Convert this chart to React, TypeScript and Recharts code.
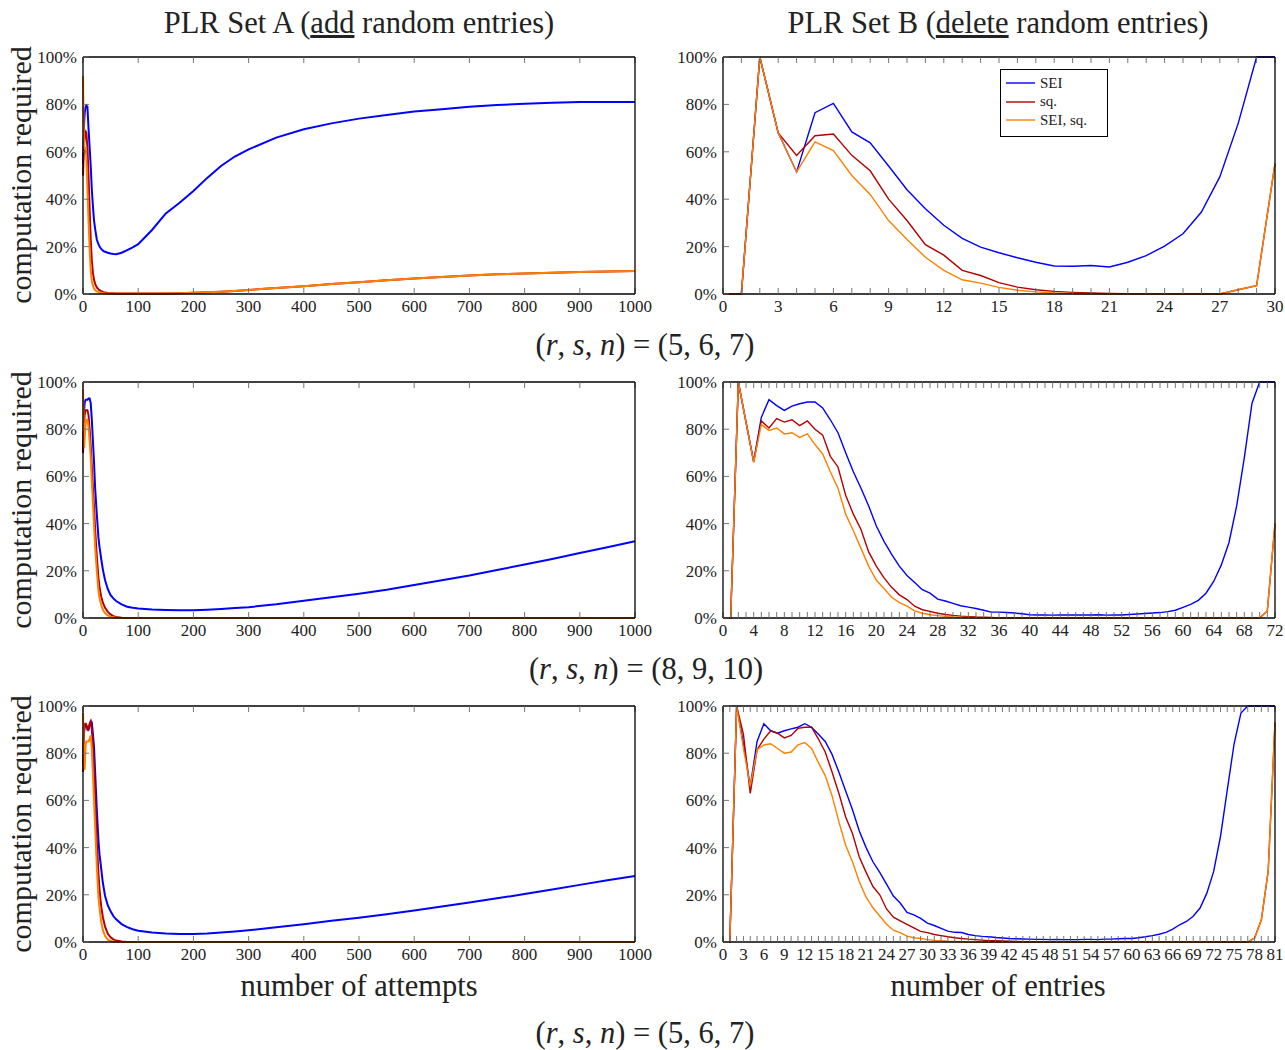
import React from "react";
import { LineChart, Line, XAxis, YAxis, Legend } from "recharts";

const FONT = "'Liberation Serif', 'DejaVu Serif', serif";
const TEXT = "#222";
const TICK = "#666";
const BLUE = "#0000ff";
const RED = "#b30000";
const ORANGE = "#ff8000";

// ---- PLR Set A: computation required vs number of attempts (sampled) ----
const attempts = [
  0, 1, 2, 3, 4, 5, 6, 8, 10, 12, 14, 16, 18, 20, 22, 25, 28, 30, 33, 36, 40, 45, 50, 55, 60,
  70, 80, 90, 100, 125, 150, 175, 200, 225, 250, 275, 300, 350, 400, 450, 500, 550, 600, 650,
  700, 750, 800, 850, 900, 950, 1000,
];

// (r,s,n) = (5,6,7)
const seiA1 = [
  55, 65, 72, 76, 78, 79, 79.5, 79, 70, 62, 54, 44, 37, 31, 27.5, 23, 21, 20, 19, 18.3, 17.8,
  17.4, 17.1, 16.9, 16.8, 17.4, 18.5, 19.7, 21, 27, 34, 38.5, 43.5, 49, 54, 58, 61, 66, 69.5, 72,
  74, 75.5, 77, 78, 79, 79.7, 80.3, 80.7, 81, 81, 81,
];
const sqA1 = [
  50, 58, 63, 66, 68, 68.5, 68, 62, 50, 36, 23, 14, 9, 6, 4.3, 2.8, 2, 1.6, 1.2, 0.9, 0.6, 0.45,
  0.35, 0.3, 0.25, 0.2, 0.2, 0.2, 0.2, 0.2, 0.2, 0.3, 0.5, 0.7, 1, 1.3, 1.7, 2.5, 3.3, 4.2, 5,
  5.8, 6.5, 7.2, 7.8, 8.3, 8.7, 9, 9.3, 9.5, 9.7,
];
const seiSqA1 = [
  92, 72, 62, 61, 62, 61, 58, 45, 31, 19, 10, 5.5, 3.5, 2.3, 1.6, 1.1, 0.8, 0.6, 0.5, 0.4, 0.3,
  0.25, 0.2, 0.2, 0.2, 0.2, 0.2, 0.2, 0.2, 0.2, 0.2, 0.3, 0.5, 0.7, 1, 1.3, 1.7, 2.5, 3.3, 4.2, 5,
  5.8, 6.5, 7.2, 7.8, 8.3, 8.7, 9, 9.3, 9.5, 9.7,
];

// (r,s,n) = (8,9,10)
const seiA2 = [
  70, 82, 88, 91, 92, 92.5, 92.5, 92.5, 93, 93, 91, 84, 75, 66, 55, 44, 34, 30, 25, 20.5, 16,
  12.2, 9.7, 8.3, 7.2, 5.8, 4.8, 4.3, 4, 3.6, 3.4, 3.3, 3.3, 3.5, 3.8, 4.2, 4.6, 5.8, 7.3, 8.8,
  10.3, 12, 14, 16, 18, 20.3, 22.7, 25, 27.5, 30, 32.5,
];
const sqA2 = [
  70, 78, 83, 86, 87.5, 88, 88, 88, 86, 80, 73, 64, 55, 47, 37.5, 26, 17, 13, 9, 6.5, 4.3, 2.6,
  1.5, 0.8, 0.4, 0.1, 0, 0, 0, 0, 0, 0, 0, 0, 0, 0, 0, 0, 0, 0, 0, 0, 0, 0, 0, 0, 0, 0, 0, 0, 0,
];
const seiSqA2 = [
  97, 85, 72, 76, 80, 83, 84, 84, 81, 75, 68, 58, 49, 39, 30, 20, 11.5, 8.5, 5.5, 3.5, 2, 1.1,
  0.5, 0.3, 0.1, 0, 0, 0, 0, 0, 0, 0, 0, 0, 0, 0, 0, 0, 0, 0, 0, 0, 0, 0, 0, 0, 0, 0, 0, 0, 0,
];

// (r,s,n) = (5,6,7), second run
const seiA3 = [
  75, 85, 89, 91, 92, 92.2, 92, 90.5, 90, 91.5, 93.5, 93, 88, 82.5, 72, 56, 43, 37, 31, 25, 19.5,
  15.5, 13, 11, 9.6, 7.6, 6.3, 5.4, 4.8, 4, 3.6, 3.4, 3.4, 3.6, 4, 4.5, 5, 6.2, 7.5, 9, 10.3,
  11.8, 13.3, 15, 16.7, 18.5, 20.3, 22.2, 24.2, 26.2, 28,
];
const sqA3 = [
  72, 85, 90, 92, 92.5, 92.5, 91.5, 90, 90.5, 92.5, 93.4, 90, 83, 74, 62, 43, 29, 22, 15, 10.5,
  6.5, 3.5, 2, 1.1, 0.6, 0.2, 0.05, 0, 0, 0, 0, 0, 0, 0, 0, 0, 0, 0, 0, 0, 0, 0, 0, 0, 0, 0, 0, 0,
  0, 0, 0,
];
const seiSqA3 = [
  97, 85, 74, 73, 80, 84, 85, 85, 85, 86, 87.5, 82, 71, 60, 49, 32, 19, 14.5, 8.5, 5, 2.5, 1, 0.5,
  0.2, 0.1, 0, 0, 0, 0, 0, 0, 0, 0, 0, 0, 0, 0, 0, 0, 0, 0, 0, 0, 0, 0, 0, 0, 0, 0, 0, 0,
];

// ---- PLR Set B: computation required vs number of entries ----
const seiB1 = [
  0, 0, 100, 68, 51.5, 76.5, 80.4, 68.4, 63.8, 54, 44, 36, 29, 23.5, 19.8, 17.4, 15.3, 13.4, 11.8,
  11.7, 12, 11.4, 13.4, 16.2, 20.2, 25.4, 34.6, 49.4, 72, 100, 100,
];
const sqB1 = [
  0, 0, 100, 68, 58.5, 66.8, 67.5, 58.5, 52, 40, 31, 20.8, 16.4, 10, 7.8, 4.8, 2.9, 1.8, 1.1, 0.7,
  0.4, 0.2, 0.1, 0.1, 0.1, 0, 0, 0, 1.8, 3.5, 55,
];
const seiSqB1 = [
  0, 0, 100, 68, 51.5, 64.2, 60.5, 50, 42, 31, 23, 15.5, 10, 6, 4.6, 2.8, 1.6, 0.9, 0.4, 0.2, 0.1,
  0, 0, 0, 0, 0, 0, 0, 1.8, 3.5, 55,
];

const seiB2 = [
  0, 0, 100, 83, 66.5, 85, 92.5, 90, 88, 89.8, 90.8, 91.5, 91.5, 89, 84, 78.5, 70, 62, 55, 47.5,
  39, 32.5, 27, 22, 18, 15, 12, 10.5, 8, 7.2, 6.2, 5.2, 4.6, 4, 3.3, 2.5, 2.5, 2.3, 2.1, 1.8, 1.4,
  1.3, 1.3, 1.2, 1.3, 1.3, 1.3, 1.3, 1.3, 1.4, 1.2, 1.3, 1.3, 1.5, 1.7, 1.9, 2.1, 2.3, 2.7, 3.3,
  4.5, 5.8, 7.5, 10.5, 15.5, 22.5, 32, 47.5, 68, 91, 100, 100, 100,
];
const sqB2 = [
  0, 0, 100, 83, 66, 83.5, 80.5, 84.5, 83, 84, 81.5, 83.5, 80, 77.5, 68.5, 64, 52, 44, 37.5, 28,
  22, 17, 13, 9.8, 7.8, 5, 3.5, 2.8, 2, 1.5, 1.1, 0.8, 0.6, 0.4, 0.3, 0.2, 0, 0, 0, 0, 0, 0, 0, 0,
  0, 0, 0, 0, 0, 0, 0, 0, 0, 0, 0, 0, 0, 0, 0, 0, 0, 0, 0, 0, 0, 0, 0, 0, 0, 0, 0, 3, 40,
];
const seiSqB2 = [
  0, 0, 100, 83, 66, 82, 79.5, 80.5, 78, 78.5, 76.5, 78, 73.5, 69.5, 62, 55, 44, 37, 29.5, 22, 16,
  12.5, 8.8, 6.5, 5, 3, 2, 1.4, 1, 0.7, 0.4, 0.3, 0.2, 0.1, 0, 0, 0, 0, 0, 0, 0, 0, 0, 0, 0, 0, 0,
  0, 0, 0, 0, 0, 0, 0, 0, 0, 0, 0, 0, 0, 0, 0, 0, 0, 0, 0, 0, 0, 0, 0, 0, 3, 40,
];

const seiB3 = [
  0, 0, 100, 84, 66, 85, 92.5, 89.5, 88.5, 89.5, 90.3, 91, 92.5, 91, 88, 85, 79.5, 72, 64, 56, 47,
  40, 34, 29.5, 24.5, 19.5, 16.5, 12.5, 11.5, 10, 8, 7, 5.8, 4.6, 4.1, 4, 3.2, 2.7, 2.4, 2.2, 1.9,
  1.7, 1.5, 1.4, 1.3, 1.2, 1.1, 1.1, 1, 1.1, 1, 1, 1, 1.1, 1.1, 1, 1.2, 1.2, 1.4, 1.5, 1.5, 1.8,
  2.2, 2.7, 3.3, 4.1, 5.5, 7.3, 8.7, 10.9, 14.4, 20.7, 29.9, 44.7, 64.5, 84, 97, 100, 100, 100,
  100, 100,
];
const sqB3 = [
  0, 0, 100, 88, 63, 81.5, 86, 89.5, 88.5, 86.5, 87.5, 90.5, 91, 91, 86, 80.5, 72, 63, 53, 46, 36,
  29.5, 23.5, 20, 14, 10.5, 9, 7.5, 6, 4.5, 4, 3.2, 2.7, 2.2, 1.8, 1.5, 1.2, 1, 0.8, 0.6, 0.5, 0.4,
  0.3, 0.2, 0.1, 0, 0, 0, 0, 0, 0, 0, 0, 0, 0, 0, 0, 0, 0, 0, 0, 0, 0, 0, 0, 0, 0, 0, 0, 0, 0, 0,
  0, 0, 0, 0, 0, 0, 1.7, 9.4, 30, 93,
];
const seiSqB3 = [
  0, 0, 100, 82, 66, 81.5, 83.5, 84, 82, 80, 80.5, 83.5, 84.5, 82, 76, 70.5, 62, 51, 41, 34, 25.5,
  19, 14.5, 11, 7.5, 5, 4, 2.5, 1.8, 1.5, 1, 0.7, 0.5, 0.3, 0.2, 0.1, 0, 0, 0, 0, 0, 0, 0, 0, 0, 0,
  0, 0, 0, 0, 0, 0, 0, 0, 0, 0, 0, 0, 0, 0, 0, 0, 0, 0, 0, 0, 0, 0, 0, 0, 0, 0, 0, 0, 0, 0, 0, 0,
  1.7, 9.4, 30, 93,
];

const seriesNames = ["SEI", "sq.", "SEI, sq."];
const yTicks = [0, 20, 40, 60, 80, 100];
const attemptTicks = [0, 100, 200, 300, 400, 500, 600, 700, 800, 900, 1000];

const entries = (n: number) => Array.from({ length: n + 1 }, (_, i) => i);

const rows = (xs: number[], sei: number[], sq: number[], seiSq: number[]) =>
  xs.map((x, i) => ({ x, sei: sei[i], sq: sq[i], seiSq: seiSq[i] }));

const ML = 60;
const MR = 30;
const MT = 10;
const MB = 32;
const PLOT_W = 552;

const xTick = (every: number) => (props: any) => {
  const { x, y, payload } = props;
  if (payload.value % every !== 0) return <g />;
  return (
    <text x={x} y={y} dy="0.71em" textAnchor="middle" fontSize={17} fontFamily={FONT} fill={TEXT}>
      {payload.value}
    </text>
  );
};

const noTick = () => <g />;

function LegendBox(props: any) {
  const items = [...(props.payload || [])].sort(
    (a: any, b: any) => seriesNames.indexOf(a.value) - seriesNames.indexOf(b.value)
  );
  return (
    <div
      style={{
        boxSizing: "border-box",
        width: 108,
        height: 68,
        border: "1.3px solid #000",
        background: "#fff",
        padding: "4px 5px",
      }}
    >
      {items.map((e: any) => (
        <div key={e.value} style={{ display: "flex", alignItems: "center", height: 18.5 }}>
          <svg width={29} height={4}>
            <line x1={0} y1={2} x2={29} y2={2} stroke={e.color} strokeWidth={1.4} />
          </svg>
          <span style={{ marginLeft: 5, fontSize: 15, fontFamily: FONT, color: TEXT, lineHeight: 1 }}>
            {e.value}
          </span>
        </div>
      ))}
    </div>
  );
}

type PanelProps = {
  plotX: number;
  plotY: number;
  plotH: number;
  data: any[];
  xMax: number;
  xTicks: number[];
  every: number;
  thick?: boolean;
  legend?: boolean;
};

function Panel(p: PanelProps) {
  const width = PLOT_W + ML + MR;
  const height = p.plotH + MT + MB;
  const sw = p.thick ? 2 : 1.4;
  const frame = { stroke: "#000", strokeWidth: 1.3 };
  const tickLine = { stroke: TICK, strokeWidth: 0.9 };
  return (
    <div style={{ position: "absolute", left: p.plotX - ML, top: p.plotY - MT }}>
      <LineChart
        width={width}
        height={height}
        data={p.data}
        margin={{ top: MT - 1, right: MR - 1, bottom: 0, left: 0 }}
      >
        <XAxis
          xAxisId="bottom"
          dataKey="x"
          type="number"
          domain={[0, p.xMax]}
          ticks={p.xTicks}
          interval={0}
          height={MB}
          tickSize={-6}
          tickMargin={12}
          tick={xTick(p.every)}
          tickLine={tickLine}
          axisLine={frame}
        />
        <XAxis
          xAxisId="top"
          orientation="top"
          dataKey="x"
          type="number"
          domain={[0, p.xMax]}
          ticks={p.xTicks}
          interval={0}
          height={1}
          tickSize={-6}
          tick={noTick}
          tickLine={tickLine}
          axisLine={frame}
        />
        <YAxis
          yAxisId="left"
          type="number"
          domain={[0, 100]}
          ticks={yTicks}
          interval={0}
          width={ML}
          tickSize={-6}
          tickMargin={12}
          tickFormatter={(v: number) => `${v}%`}
          tick={{ fontSize: 17, fontFamily: FONT, fill: TEXT }}
          tickLine={tickLine}
          axisLine={frame}
        />
        <YAxis
          yAxisId="right"
          orientation="right"
          type="number"
          domain={[0, 100]}
          ticks={yTicks}
          interval={0}
          width={1}
          tickSize={-6}
          tick={noTick}
          tickLine={tickLine}
          axisLine={frame}
        />
        {p.legend && (
          <Legend
            layout="vertical"
            align="center"
            verticalAlign="middle"
            wrapperStyle={{ left: 1000 - (p.plotX - ML), top: 69 - (p.plotY - MT), width: 108 }}
            content={LegendBox}
          />
        )}
        <Line xAxisId="bottom" yAxisId="left" type="linear" dataKey="sei" name={seriesNames[0]} stroke={BLUE} strokeWidth={sw} dot={false} isAnimationActive={false} />
        <Line xAxisId="bottom" yAxisId="left" type="linear" dataKey="sq" name={seriesNames[1]} stroke={RED} strokeWidth={sw} dot={false} isAnimationActive={false} />
        <Line xAxisId="bottom" yAxisId="left" type="linear" dataKey="seiSq" name={seriesNames[2]} stroke={ORANGE} strokeWidth={sw} dot={false} isAnimationActive={false} />
      </LineChart>
    </div>
  );
}

function Caption({ cx, top, children }: { cx: number; top: number; children: React.ReactNode }) {
  return (
    <div
      style={{
        position: "absolute",
        left: cx - 300,
        top,
        width: 600,
        textAlign: "center",
        fontFamily: FONT,
        fontSize: 30.5,
        lineHeight: "30px",
        color: TEXT,
        whiteSpace: "nowrap",
      }}
    >
      {children}
    </div>
  );
}

function YLabel({ cy }: { cy: number }) {
  return (
    <div
      style={{
        position: "absolute",
        left: 21 - 150,
        top: cy - 15,
        width: 300,
        height: 30,
        textAlign: "center",
        fontFamily: FONT,
        fontSize: 30,
        lineHeight: "30px",
        color: TEXT,
        whiteSpace: "nowrap",
        transform: "rotate(-90deg)",
      }}
    >
      computation required
    </div>
  );
}

const Rsn = ({ v }: { v: string }) => (
  <>
    (<i>r</i>, <i>s</i>, <i>n</i>) = ({v})
  </>
);

export default function App() {
  const LX = 83;
  const RX = 723;
  return (
    <div style={{ position: "absolute", left: 0, top: 0, width: 1285, height: 1050, background: "#fff", overflow: "hidden" }}>
      <Caption cx={359} top={8}>
        PLR Set A (<u>add</u> random entries)
      </Caption>
      <Caption cx={998} top={8}>
        PLR Set B (<u>delete</u> random entries)
      </Caption>

      <YLabel cy={175} />
      <YLabel cy={500} />
      <YLabel cy={824} />

      <Panel plotX={LX} plotY={57} plotH={237} data={rows(attempts, seiA1, sqA1, seiSqA1)} xMax={1000} xTicks={attemptTicks} every={100} thick />
      <Panel plotX={RX} plotY={57} plotH={237} data={rows(entries(30), seiB1, sqB1, seiSqB1)} xMax={30} xTicks={entries(30)} every={3} legend />
      <Caption cx={645} top={330}>
        <Rsn v="5, 6, 7" />
      </Caption>

      <Panel plotX={LX} plotY={382} plotH={236} data={rows(attempts, seiA2, sqA2, seiSqA2)} xMax={1000} xTicks={attemptTicks} every={100} thick />
      <Panel plotX={RX} plotY={382} plotH={236} data={rows(entries(72), seiB2, sqB2, seiSqB2)} xMax={72} xTicks={entries(72)} every={4} />
      <Caption cx={646} top={654}>
        <Rsn v="8, 9, 10" />
      </Caption>

      <Panel plotX={LX} plotY={706} plotH={236} data={rows(attempts, seiA3, sqA3, seiSqA3)} xMax={1000} xTicks={attemptTicks} every={100} thick />
      <Panel plotX={RX} plotY={706} plotH={236} data={rows(entries(81), seiB3, sqB3, seiSqB3)} xMax={81} xTicks={entries(81)} every={3} />

      <Caption cx={359} top={971}>
        number of attempts
      </Caption>
      <Caption cx={998} top={971}>
        number of entries
      </Caption>
      <Caption cx={645} top={1018}>
        <Rsn v="5, 6, 7" />
      </Caption>
    </div>
  );
}
